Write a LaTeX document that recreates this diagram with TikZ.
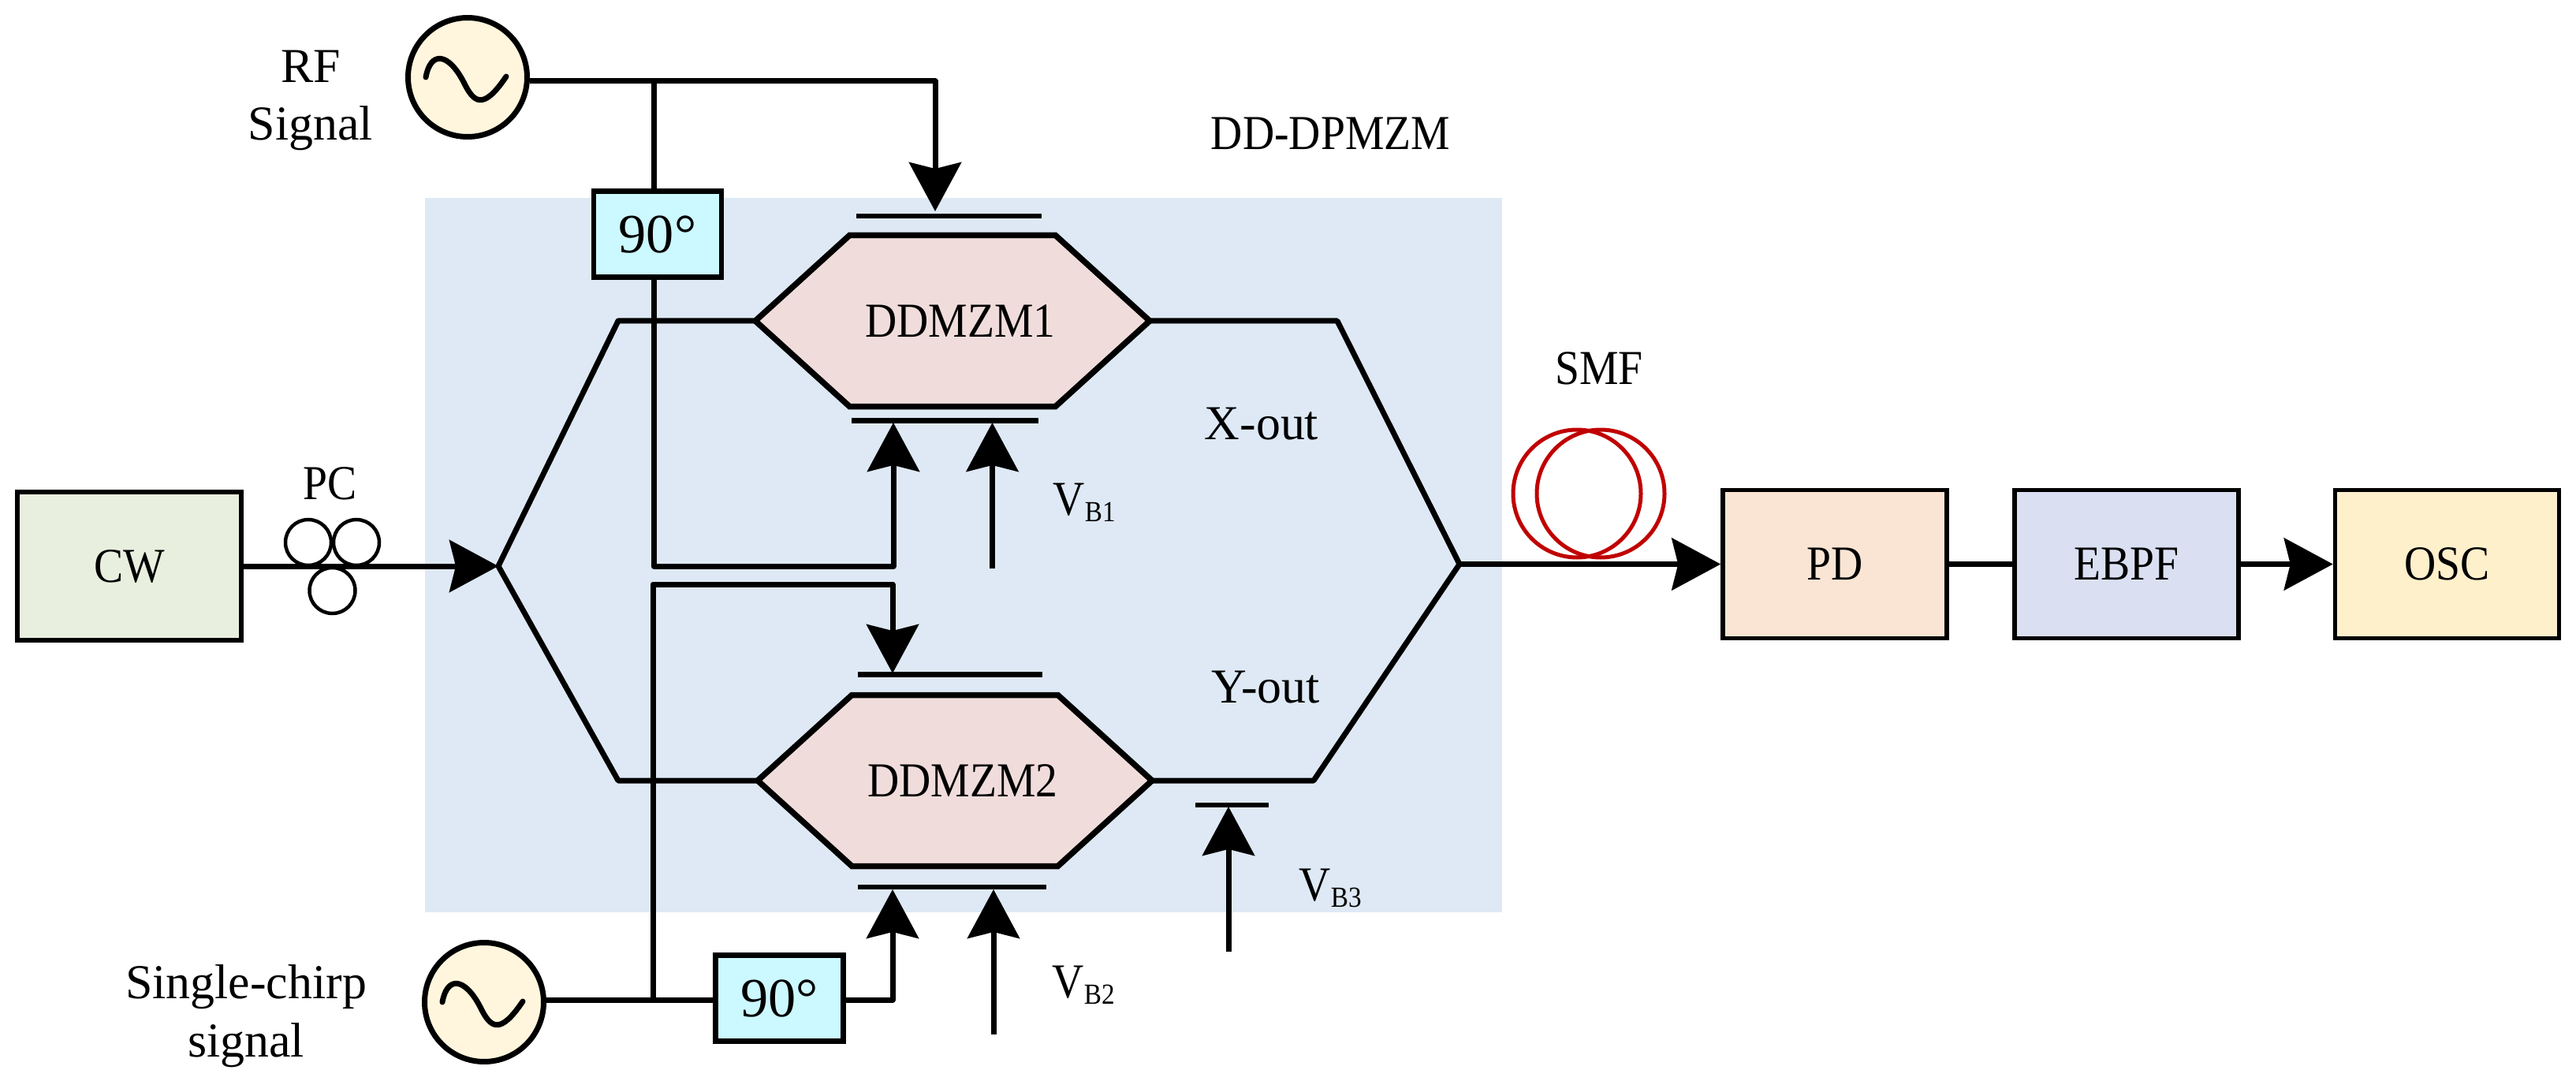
\documentclass[tikz,border=0pt]{standalone}
\usepackage{fontspec}
\setmainfont{Liberation Serif}[FakeStretch=0.9]
\newfontfamily\widefont{Liberation Serif}
\usepackage{tikz}
\usetikzlibrary{arrows.meta,shapes.symbols}

\definecolor{chipblue}{HTML}{DEE9F5}
\definecolor{cwgreen}{HTML}{E9EFDE}
\definecolor{pdorange}{HTML}{FAE5D5}
\definecolor{ebpfblue}{HTML}{DAE0F2}
\definecolor{oscyellow}{HTML}{FFF0CC}
\definecolor{mzmrose}{HTML}{F0DDDB}
\definecolor{shiftcyan}{HTML}{CCF8FF}
\definecolor{srccream}{HTML}{FFF6DD}
\definecolor{fibrered}{HTML}{C00000}

\newcommand{\vbias}[1]{V\raisebox{-.08cm}{\fontsize{10.5}{12}\selectfont B#1}}

\tikzset{
    every node/.style={font=\fontsize{17.6}{21}\selectfont},
    devbox/.style={rectangle,draw,line width=.055cm,minimum width=2.84cm,minimum height=1.88cm,inner sep=0},
    shiftbox/.style={rectangle,draw,line width=.065cm,fill=shiftcyan,minimum width=1.62cm,minimum height=1.09cm,inner sep=0,
                     font=\widefont\fontsize{20}{24}\selectfont},
    source/.style={circle,draw,line width=.07cm,fill=srccream,minimum size=1.51cm,inner sep=0},
    mzm/.style={signal,signal to=east and west,signal pointer angle=84.5,draw,line width=.075cm,fill=mzmrose,
                minimum width=4.9cm,minimum height=2.17cm,inner sep=0,outer sep=0},
    electrode/.style={rectangle,fill=black,minimum height=.065cm,inner sep=0},
    pcloop/.style={circle,draw,line width=.045cm,minimum size=.58cm,inner sep=0},
    fibre/.style={circle,draw=fibrered,line width=.05cm,minimum size=1.62cm,inner sep=0},
    wire/.style={line width=.07cm,line join=round},
    feed/.style={wire,-{Stealth[length=.62cm,width=.66cm,inset=.08cm]}},
    lbl/.style={anchor=base,inner sep=0},
    widelbl/.style={lbl,font=\widefont\fontsize{17.6}{21}\selectfont}
}

\begin{document}
\begin{tikzpicture}
        \useasboundingbox (0,0) rectangle (32.67,13.7);
        \node[fill=chipblue,minimum width=13.66cm,minimum height=9.06cm,inner sep=0] (chip) at (12.22,6.66) {};

        \node[devbox,fill=cwgreen] (CW) at (1.64,6.52) {CW};
        \node[devbox,fill=pdorange] (PD) at (23.27,6.545) {PD};
        \node[devbox,fill=ebpfblue] (EBPF) at (26.97,6.545) {EBPF};
        \node[devbox,fill=oscyellow] (OSC) at (31.035,6.545) {OSC};

        \node[source] (RF) at (5.93,12.72) {};
        \node[source] (SC) at (6.14,0.99) {};
        \node[shiftbox] (P1) at (8.34,10.73) {90°};
        \node[shiftbox] (P2) at (9.885,1.04) {90°};

        \node[mzm] (M1) at (12.08,9.63) {\hspace*{.2cm}DDMZM1};
        \node[mzm] (M2) at (12.11,3.80) {\hspace*{.2cm}DDMZM2};

        \node[electrode,minimum width=2.35cm] (E1t) at (12.035,10.96) {};
        \node[electrode,minimum width=2.37cm] (E1b) at (11.985,8.365) {};
        \node[electrode,minimum width=2.34cm] (E2t) at (12.05,5.145) {};
        \node[electrode,minimum width=2.39cm] (E2b) at (12.075,2.45) {};
        \node[electrode,minimum width=.93cm] (E3) at (15.625,3.49) {};

        \node[pcloop] (PCa) at (3.91,6.82) {};
        \node[pcloop] (PCb) at (4.52,6.82) {};
        \node[pcloop] (PCc) at (4.215,6.21) {};
        \node[fibre] (SMFa) at (20.00,7.44) {};
        \node[fibre] (SMFb) at (20.30,7.44) {};

        \coordinate (J1) at (8.29,12.67);
        \coordinate (C1) at (8.29,6.52);
        \coordinate (J2) at (8.28,1.02);
        \coordinate (C2) at (8.28,6.29);
        \coordinate (T1) at (11.86,11.02);
        \coordinate (B1) at (11.33,8.34);
        \coordinate (T2) at (11.32,5.16);
        \coordinate (B2) at (11.32,2.42);
        \coordinate (V1) at (12.585,6.49);
        \coordinate (A1) at (12.585,8.34);
        \coordinate (V2) at (12.60,0.58);
        \coordinate (A2) at (12.60,2.42);
        \coordinate (V3) at (15.58,1.63);
        \coordinate (A3) at (15.58,3.47);
        \coordinate (Sp) at (6.32,6.52);
        \coordinate (U1) at (7.84,9.63);
        \coordinate (L1) at (7.84,3.80);
        \coordinate (Out) at (18.51,6.545);
        \coordinate (U2) at (16.96,9.63);
        \coordinate (L2) at (16.66,3.80);

        % sine in both sources
        \foreach \src in {RF,SC} {
            \draw[wire,line cap=round,shift={(\src)}] (-.53,0) .. controls (-.47,.33) and (-.25,.32) .. (-.05,-.06)
                .. controls (.08,-.33) and (.2,-.42) .. (.49,.01);
        }

        \draw[wire] (J1 -| RF.east) -- (J1);
        \draw[wire] (J1) -- (J1 |- P1.north);
        \draw[feed] (J1) -| (T1);
        \draw[feed] (J1 |- P1.south) -- (C1) -| (B1);

        \draw[wire] (J2 -| SC.east) -- (J2) -- (J2 -| P2.west);
        \draw[feed] (J2) -- (C2) -| (T2);
        \draw[feed] (J2 -| P2.east) -| (B2);

        \draw[feed] (V1) -- (A1);
        \draw[feed] (V2) -- (A2);
        \draw[feed] (V3) -- (A3);

        \draw[feed] (CW) -- (Sp);
        \draw[wire] (M1.west) -- (U1) -- (Sp) -- (L1) -- (M2.west);
        \draw[wire] (M1.east) -- (U2) -- (Out) -- (L2) -- (M2.east);
        \draw[feed] (Out) -- (PD);
        \draw[wire] (PD) -- (EBPF);
        \draw[feed] (EBPF) -- (OSC);

        \node[widelbl,align=center] (RFlabel) at (3.94,11.92) {RF\\Signal};
        \node[widelbl,align=center] (SClabel) at (3.12,0.30) {Single-chirp\\signal};
        \node[lbl] (PClabel) at (4.19,7.37) {PC};
        \node[lbl] (chiplabel) at (16.875,11.80) {DD-DPMZM};
        \node[lbl] (SMFlabel) at (20.28,8.83) {SMF};
        \node[widelbl] (Xlabel) at (16.00,8.13) {X-out};
        \node[widelbl] (Ylabel) at (16.05,4.79) {Y-out};
        \node[lbl,anchor=base west] (VB1) at (13.35,7.17) {\vbias{1}};
        \node[lbl,anchor=base west] (VB2) at (13.34,1.05) {\vbias{2}};
        \node[lbl,anchor=base west] (VB3) at (16.47,2.28) {\vbias{3}};
\end{tikzpicture}
\end{document}
